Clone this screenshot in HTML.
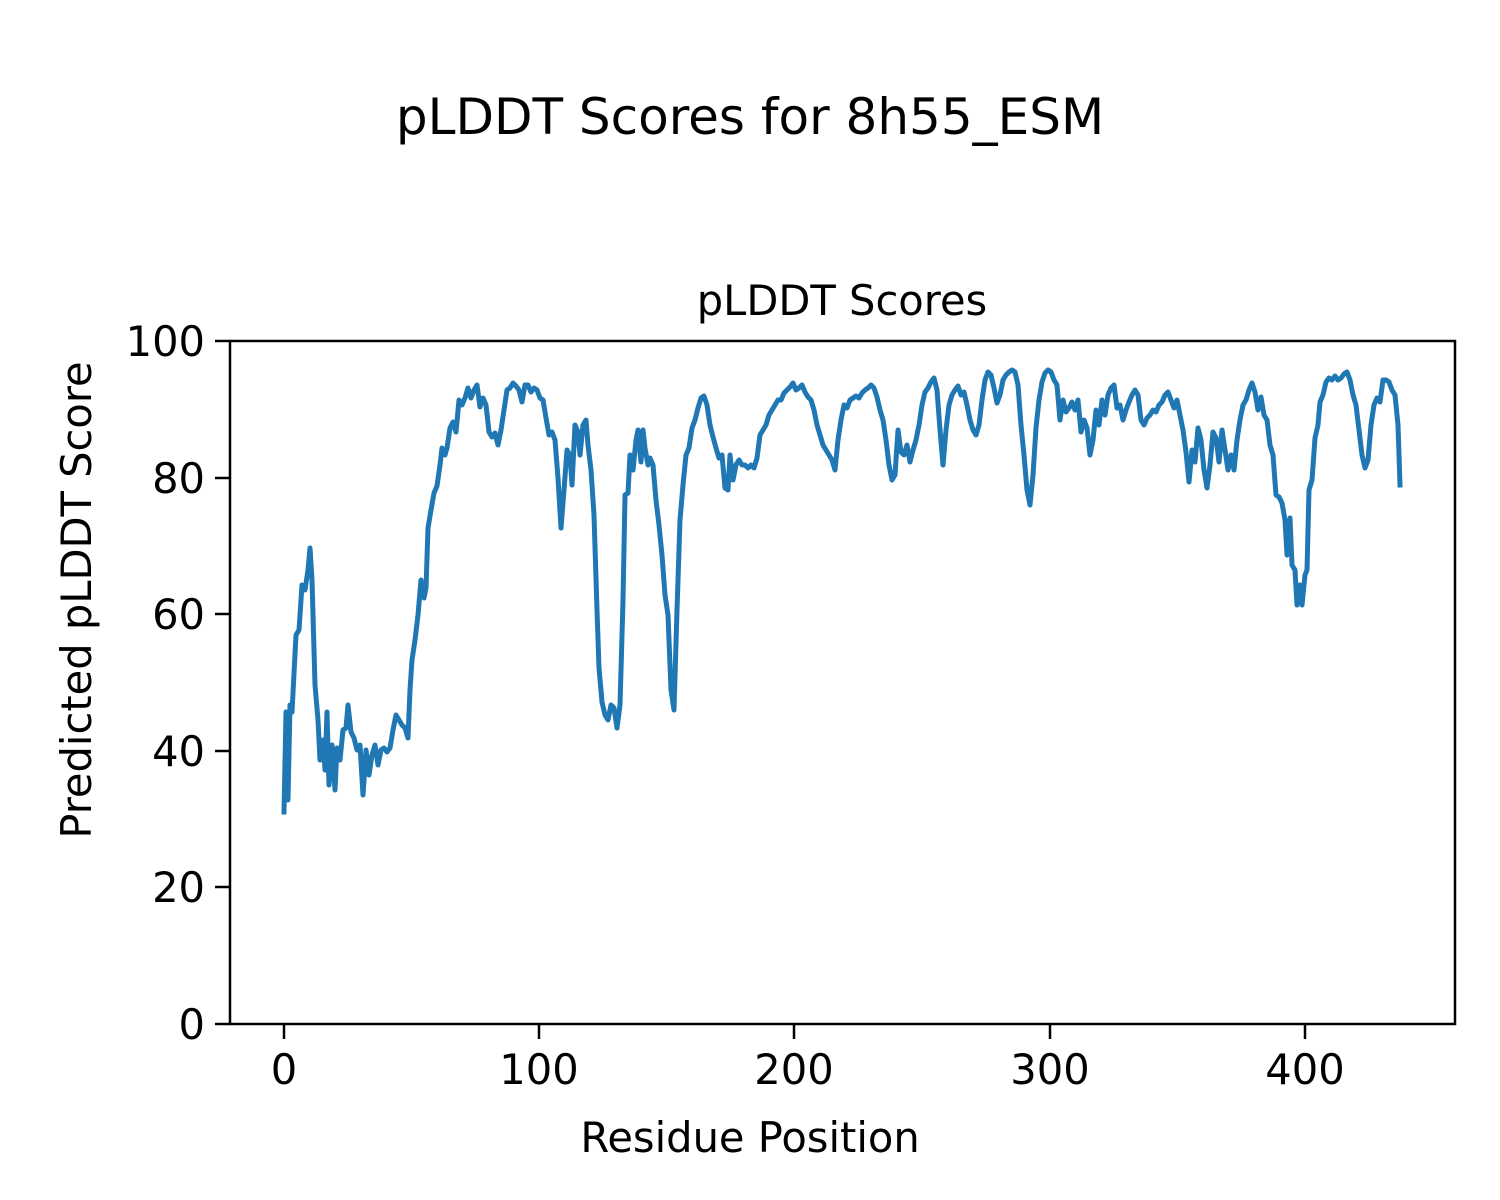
<!DOCTYPE html>
<html><head><meta charset="utf-8"><style>body{margin:0;background:#fff}svg{display:block}text{font-family:"DejaVu Sans","Liberation Sans",sans-serif;fill:#000}</style></head><body>
<svg width="1500" height="1200" viewBox="0 0 1500 1200" xmlns="http://www.w3.org/2000/svg">
<rect width="1500" height="1200" fill="#fff"/>
<text x="750" y="134" font-size="50" text-anchor="middle">pLDDT Scores for 8h55_ESM</text>
<text x="842" y="315" font-size="41.6" text-anchor="middle">pLDDT Scores</text>
<polyline fill="none" stroke="#1f77b4" stroke-width="5" stroke-linejoin="round" stroke-linecap="square" points="284,812 286,712 288,800 290,705 292,712 296,635 299,630 302,585 305,590 308,570 310,548 312,580 315,685 318,720 320,760 323,740 325,770 327,712 329,785 332,745 335,790 337,748 340,760 343,730 346,728 348,705 351,732 354,738 357,750 360,745 363,795 366,750 369,775 372,755 375,745 378,765 381,750 384,748 387,752 390,748 393,730 396,715 399,720 402,725 405,728 408,738 410,690 412,660 415,640 418,615 421,580 424,598 426,588 428,528 431,510 434,493 437,486 440,465 442,448 445,455 447,448 450,428 453,422 456,432 459,400 462,405 465,398 468,388 471,398 474,390 477,385 480,407 483,398 486,405 489,432 492,437 495,433 498,445 501,430 504,410 507,390 510,388 513,383 516,386 519,390 522,402 525,385 528,385 531,392 534,388 537,390 540,398 543,400 546,418 549,435 552,432 555,440 558,478 561,528 564,490 567,450 570,455 572,485 575,425 578,432 580,455 583,425 586,420 588,445 591,470 594,515 597,610 599,668 602,702 605,715 608,720 611,705 614,708 617,728 620,705 623,600 625,495 628,493 630,455 633,470 636,440 638,430 641,462 643,430 645,448 648,465 650,458 653,465 656,500 659,525 662,555 665,595 668,615 671,690 674,710 677,610 680,520 683,485 686,455 689,448 692,428 695,420 698,408 701,398 704,396 707,405 710,425 713,437 716,448 719,458 722,455 725,488 728,490 730,455 733,480 736,465 739,460 742,465 745,465 748,468 751,465 754,468 757,458 760,435 763,430 766,425 769,415 772,410 775,405 778,400 781,400 784,393 787,390 790,387 793,383 796,390 799,388 802,385 805,392 808,397 811,400 814,410 817,425 820,435 823,445 826,450 829,455 832,460 835,470 838,440 841,420 844,405 847,408 850,400 853,398 856,396 859,398 862,393 865,390 868,388 871,385 874,388 877,397 880,410 883,420 886,440 889,465 892,480 895,475 898,430 901,452 904,455 907,445 910,462 913,450 916,440 919,425 922,405 925,392 928,388 931,382 934,378 937,390 940,430 943,465 946,430 949,405 952,395 955,390 958,386 961,395 964,392 967,405 970,420 973,430 976,435 979,425 982,400 985,380 988,372 991,375 994,388 997,403 1000,395 1003,380 1006,375 1009,372 1012,370 1015,372 1018,385 1021,425 1024,455 1027,490 1030,505 1033,475 1036,428 1039,400 1042,382 1045,373 1048,370 1051,372 1054,380 1057,385 1060,420 1063,400 1066,412 1069,408 1072,402 1075,410 1078,400 1081,432 1084,420 1087,428 1090,455 1093,440 1096,410 1099,425 1102,400 1105,415 1108,395 1111,388 1114,385 1117,408 1120,405 1123,420 1126,410 1129,402 1132,395 1135,390 1138,395 1141,420 1144,425 1147,418 1150,415 1153,410 1156,412 1159,405 1162,402 1165,395 1168,392 1171,400 1174,408 1177,400 1180,415 1183,430 1186,452 1189,482 1192,450 1195,462 1198,428 1201,440 1204,470 1207,488 1210,465 1213,432 1216,438 1219,462 1222,430 1225,450 1228,470 1231,455 1234,470 1237,440 1240,420 1243,405 1246,400 1249,390 1252,383 1255,392 1258,410 1261,397 1264,415 1267,420 1270,445 1273,455 1276,495 1279,497 1282,503 1285,520 1287,555 1290,518 1292,565 1295,570 1297,605 1300,585 1302,605 1305,575 1307,570 1309,490 1312,480 1315,438 1318,425 1320,402 1323,395 1326,382 1329,378 1332,380 1335,376 1338,380 1341,378 1344,374 1347,372 1350,380 1353,395 1356,405 1359,430 1362,455 1365,468 1368,460 1371,425 1374,405 1377,398 1380,402 1383,380 1386,380 1389,382 1392,390 1395,395 1398,425 1400,485"/>
<rect x="230" y="341" width="1225" height="683" fill="none" stroke="#000" stroke-width="2.5"/>
<g stroke="#000" stroke-width="2.5">
<line x1="215" y1="341" x2="230" y2="341"/><line x1="215" y1="478" x2="230" y2="478"/><line x1="215" y1="614" x2="230" y2="614"/><line x1="215" y1="751" x2="230" y2="751"/><line x1="215" y1="887" x2="230" y2="887"/><line x1="215" y1="1024" x2="230" y2="1024"/>
<line x1="284" y1="1024" x2="284" y2="1039"/><line x1="539" y1="1024" x2="539" y2="1039"/><line x1="794" y1="1024" x2="794" y2="1039"/><line x1="1050" y1="1024" x2="1050" y2="1039"/><line x1="1305" y1="1024" x2="1305" y2="1039"/>
</g>
<g font-size="41.6" text-anchor="end">
<text x="205" y="356">100</text><text x="205" y="493">80</text><text x="205" y="629">60</text><text x="205" y="766">40</text><text x="205" y="902">20</text><text x="205" y="1039">0</text>
</g>
<g font-size="41.6" text-anchor="middle">
<text x="284" y="1084">0</text><text x="539" y="1084">100</text><text x="794" y="1084">200</text><text x="1050" y="1084">300</text><text x="1305" y="1084">400</text>
</g>
<text x="750" y="1152" font-size="41.6" text-anchor="middle">Residue Position</text>
<text transform="translate(91,600) rotate(-90)" font-size="41.6" text-anchor="middle">Predicted pLDDT Score</text>
</svg>
</body></html>
